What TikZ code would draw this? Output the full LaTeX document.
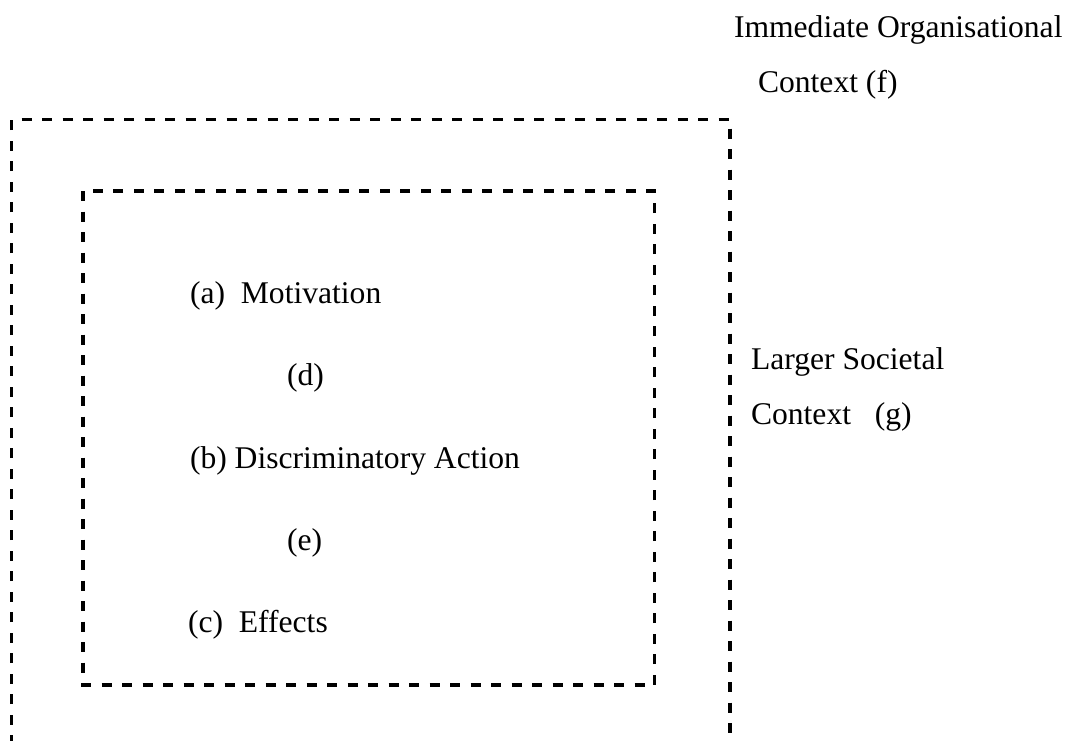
\documentclass[tikz,border=0pt]{standalone}
\usepackage{fontspec}
\setmainfont{Liberation Serif}
\tikzset{
  boxline/.style={line width=3.4pt, dash pattern=on 10pt off 10.5pt, line cap=butt},
  lbl/.style={anchor=base west, inner sep=0pt, outer sep=0pt, font=\fontsize{31.6}{38}\selectfont}
}
\begin{document}
\begin{tikzpicture}[x=1pt,y=-1pt]
\useasboundingbox (0,0) rectangle (1068,740);
% outer (open at bottom) box
\coordinate (obl) at (11.5,745);
\coordinate (otl) at (11.5,119.5);
\coordinate (otr) at (730,119.5);
\coordinate (obr) at (730,745);
\draw[boxline] (obl) -- (otl) -- (otr) -- (obr);
% inner box
\coordinate (itl) at (83,191);
\coordinate (ibr) at (654.5,685);
\draw[boxline] (itl) rectangle (ibr);
% labels
\node[lbl] (imm) at (734,37) {Immediate Organisational};
\node[lbl] (ctxf) at (758,92) {Context (f)};
\node[lbl] (mot) at (190,303) {(a)\ \ Motivation};
\node[lbl] (d) at (287,385) {(d)};
\node[lbl] (disc) at (190,468) {(b) Discriminatory Action};
\node[lbl] (e) at (287,550) {(e)};
\node[lbl] (eff) at (188,632) {(c)\ \ Effects};
\node[lbl] (lsc) at (751,369) {Larger Societal};
\node[lbl] (ctxg) at (751,424) {Context\ \ \ (g)};
\end{tikzpicture}
\end{document}
